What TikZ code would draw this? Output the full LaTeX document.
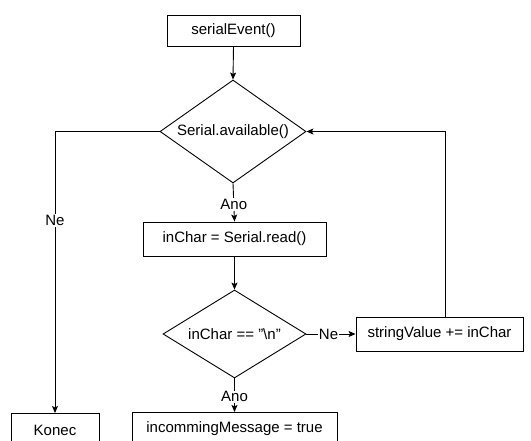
\documentclass[tikz,border=0pt]{standalone}
\usepackage{fontspec}
\setmainfont{Liberation Sans}
\usetikzlibrary{shapes.geometric,arrows.meta}
\begin{document}
\begin{tikzpicture}[x=1pt,y=-1pt,
  every node/.style={font=\fontsize{15}{17}\selectfont},
  proc/.style={draw,line width=0.9pt,rectangle,inner sep=0pt},
  dec/.style={draw,line width=0.9pt,diamond,inner sep=0pt},
  conn/.style={line width=0.9pt,-{Stealth[length=7pt,width=6pt,inset=1.5pt]}},
  lab/.style={fill=white,inner sep=1pt}]
\useasboundingbox (0,0) rectangle (531,441);
\clip (0,0) rectangle (531,441);
\node[proc,minimum width=133pt,minimum height=31pt] (start) at (233.5,30.5) {serialEvent()};
\node[dec,minimum width=146pt,minimum height=103pt] (avail) at (233,131.5) {\makebox[0pt]{Serial.available()}};
\node[proc,minimum width=183pt,minimum height=34pt] (read) at (234.5,239) {inChar = Serial.read()};
\node[dec,minimum width=143pt,minimum height=88pt] (nl) at (234.5,334) {\makebox[0pt]{inChar == "\textbackslash n"}};
\node[proc,minimum width=167pt,minimum height=34pt] (sv) at (439.5,334) {stringValue += inChar};
\node[proc,minimum width=205pt,minimum height=34pt,anchor=north] (msg) at (234.5,412) {};
\node at (234.5,429) {incommingMessage = true};
\node[proc,minimum width=88pt,minimum height=34pt,anchor=north] (konec) at (55,413) {};
\node at (55,430) {Konec};
\draw[conn] (start.south) -- (avail.north);
\draw[conn] (avail.south) -- node[lab,pos=0.55] {Ano} (read.north);
\draw[conn] (avail.west) -| node[lab,pos=0.658] {Ne} (konec.north);
\draw[conn] (read.south) -- (nl.north);
\draw[conn] (nl.east) -- node[lab,pos=0.45,inner sep=0.5pt] {Ne} (sv.west);
\draw[conn] (nl.south) -- node[lab,pos=0.55] {Ano} (msg.north);
\draw[conn] (sv.north -| 445,0) |- (avail.east);
\end{tikzpicture}
\end{document}
